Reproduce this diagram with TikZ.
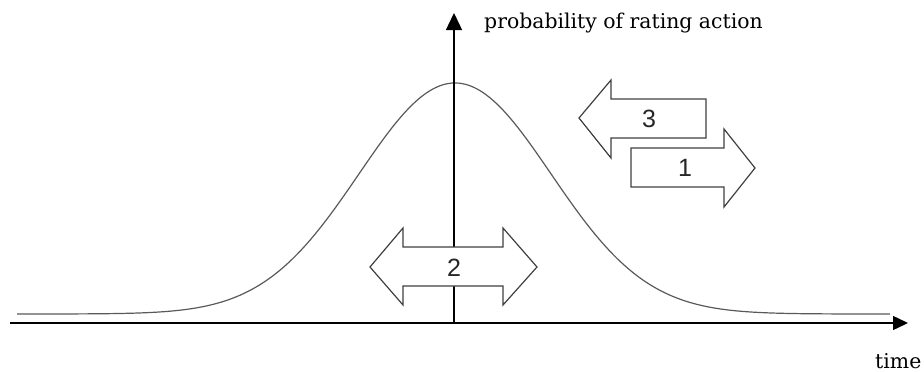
\documentclass[tikz,border=0pt]{standalone}
\usepackage{fontspec}
\setmainfont{DejaVu Serif}
\newfontfamily\digitfont{Liberation Sans}
\usetikzlibrary{arrows.meta}
\tikzset{
  axisline/.style={black, line width=1.4pt},
  bellcurve/.style={draw=black!65, line width=1.2pt},
  bigarrow/.style={draw=black!75, line width=1.2pt, fill=white, line join=miter},
  numlabel/.style={font=\digitfont\fontsize{25}{25}\selectfont, inner sep=0pt, text=black!85},
  axislabel/.style={inner sep=0pt, font=\fontsize{20.4}{20.4}\selectfont}
}
\begin{document}
\begin{tikzpicture}[x=1pt,y=-1pt]
\useasboundingbox (0,0) rectangle (924,372);
% coordinates of axes
\coordinate (xstart) at (10,323);
\coordinate (xend) at (908,323);
\coordinate (origin) at (454,323);
\coordinate (yend) at (454,13);
% bell curve
\draw[bellcurve] plot[domain=17:890, samples=240, smooth]
  (\x, {314-231*exp(-0.5*((\x-455)/96)*((\x-455)/96))});
% axes
\draw[axisline, -{Triangle[length=15pt,width=14pt]}] (xstart) -- (xend);
\draw[axisline, -{Triangle[length=17pt,width=16pt]}] (origin) -- (yend);
% arrow 3 (left)
\draw[bigarrow] (579,118) -- (611,80) -- (611,99) -- (706,99) -- (706,138)
  -- (611,138) -- (611,158) -- cycle;
% arrow 1 (right)
\draw[bigarrow] (631,148) -- (724,148) -- (724,129) -- (755,168) -- (724,207)
  -- (724,187) -- (631,187) -- cycle;
% arrow 2 (double)
\draw[bigarrow] (370,267) -- (403,228) -- (403,247) -- (503,247) -- (503,228)
  -- (537,267) -- (503,305) -- (503,286) -- (403,286) -- (403,305) -- cycle;
% labels
\node[numlabel] (l3) at (649,119) {3};
\node[numlabel] (l1) at (685,168) {1};
\node[numlabel] (l2) at (454,268) {2};
\node[axislabel, anchor=base west] (ylab) at (484,28) {probability of rating action};
\node[axislabel, anchor=base west] (xlab) at (875,368) {time};
\end{tikzpicture}
\end{document}
